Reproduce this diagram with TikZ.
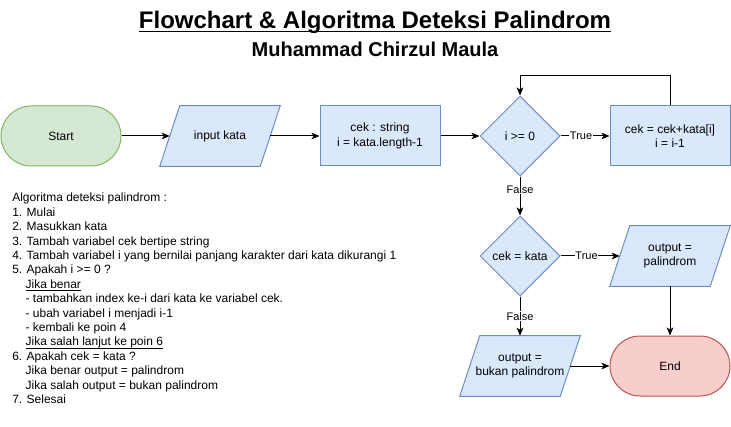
\documentclass[tikz,border=0pt]{standalone}
\usepackage{fontspec}
\setmainfont{Liberation Sans}
\usepackage{tikz}
\usetikzlibrary{positioning}
\usetikzlibrary{shapes}
\usetikzlibrary{arrows.meta}
\usetikzlibrary{backgrounds}

\definecolor{greenFill}{HTML}{D5E8D4}
\definecolor{greenLine}{HTML}{82B366}
\definecolor{blueFill}{HTML}{DAE8FC}
\definecolor{blueLine}{HTML}{6C8EBF}
\definecolor{redFill}{HTML}{F8CECC}
\definecolor{redLine}{HTML}{B85450}

\newcommand{\ulText}[1]{\underline{\smash{#1}}}

\tikzset{
	terminal/.style={rectangle, rounded corners=22.5pt, line width=0.75pt, minimum width=90pt, minimum height=45pt, font=\fontsize{9}{10.8}\selectfont},
	ioBox/.style={rectangle, minimum width=75pt, minimum height=45pt, inner sep=0pt, align=center, font=\fontsize{9}{10.8}\selectfont},
	ioShape/.style={draw=blueLine, fill=blueFill, line width=0.75pt},
	procBox/.style={rectangle, draw=blueLine, fill=blueFill, line width=0.75pt, minimum width=90pt, minimum height=45pt, align=center, font=\fontsize{9}{10.8}\selectfont},
	decision/.style={diamond, draw=blueLine, fill=blueFill, line width=0.75pt, minimum width=60pt, minimum height=60pt, inner sep=0pt, font=\fontsize{9}{10.8}\selectfont},
	flow/.style={-{Stealth[length=6pt, width=5pt, inset=1.5pt]}, line width=0.75pt},
	edgeLabel/.style={fill=white, inner sep=0.5pt, font=\fontsize{8.25}{9.9}\selectfont}
}

\begin{document}
\begin{tikzpicture}[x=0.75pt, y=-0.75pt]
		\useasboundingbox (0,0) rectangle (731,427);
		% title
		\node[anchor=base, font=\bfseries\fontsize{18}{21.6}\selectfont](titleText) at (375,29){\ulText{Flowchart \& Algoritma Deteksi Palindrom}};
		\node[anchor=base, font=\bfseries\fontsize{15}{18}\selectfont](authorText) at (375,57){Muhammad Chirzul Maula};
		% flowchart
		\node[terminal, draw=greenLine, fill=greenFill](startNode) at (61,136){Start};
		\node[ioBox](inputKata) at (220,136){input kata};
		\node[procBox](initBox) at (380,136){cek : string\\i = kata.length-1};
		\node[decision](checkI) at (520,136){i >= 0};
		\node[procBox](updateBox) at (670,136){cek = cek+kata[i]\\i = i-1};
		\node[decision](checkCek) at (520,256){cek = kata};
		\node[ioBox](outYes) at (670,256){output =\\palindrom};
		\node[ioBox](outNo) at (520,366){output =\\bukan palindrom};
		\node[terminal, draw=redLine, fill=redFill](endNode) at (670,366){End};
		% parallelograms behind the io nodes
		\begin{scope}[on background layer]
			\foreach \io in {inputKata, outYes, outNo}
				\draw[ioShape] ([xshift=7.5pt]\io.north west) -- ([xshift=7.5pt]\io.north east) -- ([xshift=-7.5pt]\io.south east) -- ([xshift=-7.5pt]\io.south west) -- cycle;
		\end{scope}
		\draw[flow] (startNode) -- (inputKata);
		\draw[flow] (inputKata) -- (initBox);
		\draw[flow] (initBox) -- (checkI);
		\draw[flow] (checkI) -- node[edgeLabel, pos=0.42]{True} (updateBox);
		\draw[flow] (updateBox.north) -- ++(0,-30) -| (checkI.north);
		\draw[flow] (checkI) -- node[edgeLabel, pos=0.33]{False} (checkCek);
		\draw[flow] (checkCek) -- node[edgeLabel, pos=0.44]{True} (outYes);
		\draw[flow] (checkCek) -- node[edgeLabel, pos=0.5]{False} (outNo);
		\draw[flow] (outYes) -- (endNode);
		\draw[flow] (outNo) -- (endNode);
		% algorithm text
		\node[anchor=north west, inner sep=0pt, align=left, font=\fontsize{9}{10.8}\selectfont](algoText) at (12,193){Algoritma deteksi palindrom :\\
			1. Mulai\\
			2. Masukkan kata\\
			3. Tambah variabel cek bertipe string\\
			4. Tambah variabel i yang bernilai panjang karakter dari kata dikurangi 1\\
			5. Apakah i >= 0 ?\\
			\hspace*{10pt}\ulText{Jika benar}\\
			\hspace*{10pt}- tambahkan index ke-i dari kata ke variabel cek.\\
			\hspace*{10pt}- ubah variabel i menjadi i-1\\
			\hspace*{10pt}- kembali ke poin 4\\
			\hspace*{10pt}\ulText{Jika salah lanjut ke poin 6}\\
			6. Apakah cek = kata ?\\
			\hspace*{10pt}Jika benar output = palindrom\\
			\hspace*{10pt}Jika salah output = bukan palindrom\\
			7. Selesai};
	\end{tikzpicture}
\end{document}
